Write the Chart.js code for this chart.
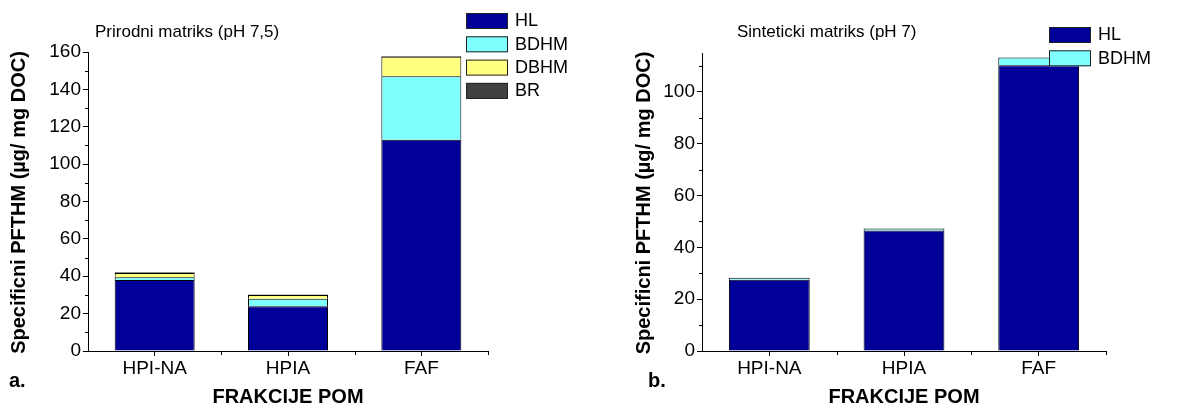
<!DOCTYPE html>
<html>
<head>
<meta charset="utf-8">
<script src="https://cdn.jsdelivr.net/npm/chart.js@4.4.1/dist/chart.umd.min.js"></script>
<style>
  html, body { margin: 0; padding: 0; background: #fff; }
  .wrap { position: relative; width: 1196px; height: 409px; }
  canvas { position: absolute; top: 0; }
</style>
</head>
<body>
<div class="wrap">
  <canvas id="chartA" width="598" height="409" style="left:0"></canvas>
  <canvas id="chartB" width="598" height="409" style="left:598px"></canvas>
</div>
<script>
// categories and values
const categories = ['HPI-NA', 'HPIA', 'FAF'];

// a. Prirodni matriks (pH 7,5)
const natHL = [38, 24, 113];
const natBDHM = [1.5, 4, 34];
const natDBHM = [2.2, 2, 10.5];
const natBR = [0.4, 0.3, 0.3];

// b. Sinteticki matriks (pH 7)
const synHL = [27.5, 46.5, 110.3];
const synBDHM = [0.8, 0.8, 3];

// tick labels
const yTicksA = [0, 20, 40, 60, 80, 100, 120, 140, 160];
const yMinorA = [10, 30, 50, 70, 90, 110, 130, 150];
const yTicksB = [0, 20, 40, 60, 80, 100];
const yMinorB = [10, 30, 50, 70, 90, 110];

const FONT = "'Liberation Sans', Arial, Helvetica, sans-serif";
const colors = { HL: '#000099', BDHM: '#80FFFF', DBHM: '#FFFF80', BR: '#404040' };

// draws the extra bits: minor ticks, titles, panel letter, legend
const decor = {
    id: 'decor',
    afterDraw(chart, args, opts) {
        const ctx = chart.ctx;
        const x = chart.scales.x;
        const y = chart.scales.y;
        ctx.save();
        ctx.strokeStyle = '#000';
        ctx.lineWidth = 1;

        // minor ticks on y
        opts.minorY.forEach((v) => {
            const py = Math.round(y.getPixelForValue(v)) + 0.5;
            ctx.beginPath();
            ctx.moveTo(x.left - 3, py);
            ctx.lineTo(x.left, py);
            ctx.stroke();
        });

        // small ticks between categories
        const half = (x.getPixelForValue(1) - x.getPixelForValue(0)) / 2;
        categories.forEach((c, i) => {
            const px = Math.round(x.getPixelForValue(i) + half) + 0.5;
            ctx.beginPath();
            ctx.moveTo(px, y.bottom);
            ctx.lineTo(px, y.bottom + 4);
            ctx.stroke();
        });

        ctx.fillStyle = '#000';
        // inner title
        ctx.font = '17px ' + FONT;
        ctx.textAlign = 'left';
        ctx.textBaseline = 'alphabetic';
        ctx.fillText(opts.title, opts.titleX, 37);

        // y title
        ctx.font = 'bold 20px ' + FONT;
        ctx.save();
        ctx.translate(opts.yTitleX, (y.top + y.bottom) / 2 + 1);
        ctx.rotate(-Math.PI / 2);
        ctx.textAlign = 'center';
        ctx.textBaseline = 'middle';
        ctx.fillText('Specificni PFTHM (µg/ mg DOC)', 0, 0);
        ctx.restore();

        // x title
        ctx.textAlign = 'center';
        ctx.textBaseline = 'middle';
        ctx.fillText('FRAKCIJE POM', (x.left + x.right) / 2, 397);

        // panel letter
        ctx.textAlign = 'left';
        ctx.fillText(opts.letter, opts.letterX, 381);

        // legend
        ctx.font = '18px ' + FONT;
        ctx.textBaseline = 'middle';
        chart.data.datasets.forEach((ds, i) => {
            const ty = opts.legendY + i * 23.3;
            ctx.fillStyle = ds.backgroundColor;
            ctx.fillRect(opts.legendX, ty, 42, 16);
            ctx.strokeStyle = '#222';
            ctx.strokeRect(opts.legendX + 0.5, ty + 0.5, 41, 15);
            ctx.fillStyle = '#000';
            ctx.fillText(ds.label, opts.legendX + 49, ty + 8.5);
        });
        ctx.restore();
    },
};

function makeDatasets(list) {
    return list.map(([label, data]) => ({
        label: label,
        data: data,
        backgroundColor: colors[label],
        borderColor: '#000',
        borderWidth: 1,
        barPercentage: 0.6,
        categoryPercentage: 1,
    }));
}

function makeChart(id, datasets, yMax, yTicks, axisLeft, padRight, padTop, decorOpts) {
    return new Chart(document.getElementById(id), {
        type: 'bar',
        data: { labels: categories, datasets: datasets },
        options: {
            responsive: false,
            animation: false,
            devicePixelRatio: 1,
            layout: { padding: { left: 0, right: padRight, top: padTop, bottom: 0 } },
            plugins: {
                legend: { display: false },
                tooltip: { enabled: false },
                decor: decorOpts,
            },
            scales: {
                x: {
                    stacked: true,
                    offset: true,
                    border: { color: '#000', width: 1 },
                    grid: { offset: false, drawOnChartArea: false, drawTicks: true, tickLength: 5, color: '#000' },
                    ticks: { color: '#000', font: { family: FONT, size: 19 }, padding: 1, maxRotation: 0 },
                    afterFit: (s) => { s.height = 58; },
                },
                y: {
                    stacked: true,
                    min: 0,
                    max: yMax,
                    border: { color: '#000', width: 1 },
                    grid: { drawOnChartArea: false, drawTicks: true, tickLength: 5, color: '#000' },
                    ticks: { color: '#000', font: { family: FONT, size: 19 }, padding: 2 },
                    afterBuildTicks: (s) => { s.ticks = yTicks.map((v) => ({ value: v })); },
                    afterFit: (s) => { s.width = axisLeft; },
                },
            },
        },
        plugins: [decor],
    });
}

makeChart('chartA',
    makeDatasets([['HL', natHL], ['BDHM', natBDHM], ['DBHM', natDBHM], ['BR', natBR]]),
    160, yTicksA, 88, 110, 52,
    { minorY: yMinorA, title: 'Prirodni matriks (pH 7,5)', titleX: 95, yTitleX: 19,
      letter: 'a.', letterX: 9, legendX: 466, legendY: 13 });

makeChart('chartB',
    makeDatasets([['HL', synHL], ['BDHM', synBDHM]]),
    115, yTicksB, 104, 90, 53,
    { minorY: yMinorB, title: 'Sinteticki matriks (pH 7)', titleX: 139, yTitleX: 46,
      letter: 'b.', letterX: 50, legendX: 451, legendY: 27 });
</script>
</body>
</html>
